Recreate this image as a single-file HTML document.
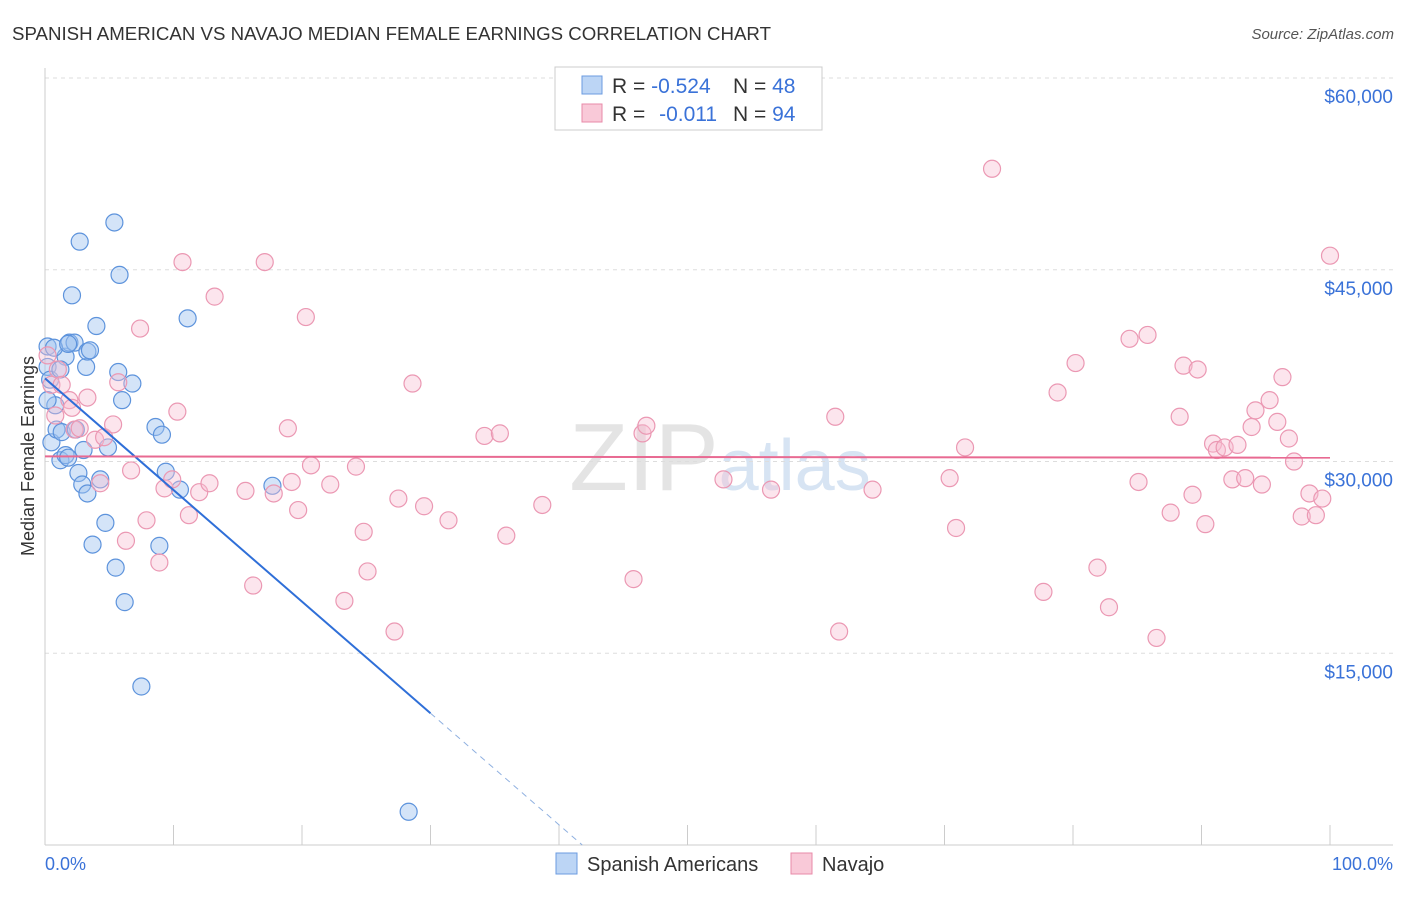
<!DOCTYPE html>
<html><head><meta charset="utf-8">
<style>
body{margin:0;background:#fff;font-family:"Liberation Sans",sans-serif;}
svg text{font-family:"Liberation Sans",sans-serif;}
</style></head>
<body>
<svg id="chart" width="1406" height="892" xmlns="http://www.w3.org/2000/svg">
<text x="12" y="40" font-size="18" fill="#333" textLength="759" lengthAdjust="spacingAndGlyphs">SPANISH AMERICAN VS NAVAJO MEDIAN FEMALE EARNINGS CORRELATION CHART</text>
<text x="1394" y="39" font-size="15" fill="#555" text-anchor="end" font-style="italic">Source: ZipAtlas.com</text>
<text x="720" y="490" font-size="96" fill="#e4e4e4" text-anchor="middle" font-family="Liberation Serif">ZIP<tspan fill="#d7e4f3" font-family="Liberation Sans" font-size="72">atlas</tspan></text>
<g id="grid"></g>
<g id="axes"></g>
<g id="pts"></g>
<g id="trend"></g>
<text transform="translate(34,456) rotate(-90)" font-size="18" fill="#333" text-anchor="middle">Median Female Earnings</text>
<text x="45" y="870" font-size="18" fill="#3a72d8">0.0%</text>
<text x="1393" y="870" font-size="18" fill="#3a72d8" text-anchor="end">100.0%</text>
<g>
<rect x="555" y="67" width="267" height="63" fill="#fff" stroke="#ccc"/>
<rect x="582" y="76" width="20" height="18" fill="#bcd5f5" stroke="#6b9be0"/>
<rect x="582" y="104" width="20" height="18" fill="#f9c9d8" stroke="#e88aa8"/>
<text x="612" y="93" font-size="21" fill="#333">R = <tspan fill="#3a72d8">-0.524</tspan><tspan x="733">N = </tspan><tspan fill="#3a72d8">48</tspan></text>
<text x="612" y="121" font-size="21" fill="#333">R = <tspan fill="#3a72d8" dx="8">-0.011</tspan><tspan x="733">N = </tspan><tspan fill="#3a72d8">94</tspan></text>
</g>
<g>
<rect x="556" y="853" width="21" height="21" fill="#bcd5f5" stroke="#6b9be0"/>
<text x="587" y="871" font-size="20" fill="#333">Spanish Americans</text>
<rect x="791" y="853" width="21" height="21" fill="#f9c9d8" stroke="#e88aa8"/>
<text x="822" y="871" font-size="20" fill="#333">Navajo</text>
</g>
</svg>
<script>
const yTicks=[15000,30000,45000,60000];
const yTickLabels=["$15,000","$30,000","$45,000","$60,000"];
const xTicks=[0,10,20,30,40,50,60,70,80,90,100];
const blueX=[0.2,0.2,0.4,0.5,0.8,0.9,1.2,1.3,1.6,1.6,1.8,1.9,2.1,2.3,2.4,2.6,2.7,2.9,3.0,3.2,3.3,3.3,3.5,3.7,4.0,4.3,4.7,4.9,5.4,5.5,5.7,5.8,6.0,6.2,6.8,7.5,8.6,8.9,9.1,9.4,10.5,11.1,17.7,28.3,0.2,0.7,1.2,1.8];
const blueY=[39.0,37.4,36.4,31.5,34.4,32.5,30.1,32.3,38.2,30.5,30.3,39.3,43.0,39.3,32.5,29.1,47.2,28.2,30.9,37.4,27.5,38.6,38.7,23.5,40.6,28.6,25.2,31.1,48.7,21.7,37.0,44.6,34.8,19.0,36.1,12.4,32.7,23.4,32.1,29.2,27.8,41.2,28.1,2.6,34.8,38.9,37.2,39.2];
const pinkX=[0.2,0.5,0.8,1.0,1.3,1.9,2.1,2.3,2.7,3.3,3.9,4.3,4.6,5.3,5.7,6.3,6.7,7.4,7.9,8.9,9.3,9.9,10.3,10.7,11.2,12.0,12.8,13.2,15.6,16.2,17.1,17.8,18.9,19.2,19.7,20.3,20.7,22.2,23.3,24.2,24.8,25.1,27.2,27.5,28.6,29.5,31.4,34.2,35.4,35.9,38.7,45.8,46.5,46.8,52.8,56.5,61.5,61.8,64.4,70.4,70.9,71.6,73.7,77.7,78.8,80.2,81.9,82.8,84.4,85.1,85.8,86.5,87.6,88.3,88.6,89.3,89.7,90.3,90.9,91.2,91.8,92.4,92.8,93.4,93.9,94.2,94.7,95.3,95.9,96.3,96.8,97.2,97.8,98.4,98.9,99.4,100.0];
const pinkY=[38.3,36.0,33.6,37.2,36.0,34.8,34.2,32.5,32.6,35.0,31.7,28.3,31.9,32.9,36.2,23.8,29.3,40.4,25.4,22.1,27.9,28.6,33.9,45.6,25.8,27.6,28.3,42.9,27.7,20.3,45.6,27.5,32.6,28.4,26.2,41.3,29.7,28.2,19.1,29.6,24.5,21.4,16.7,27.1,36.1,26.5,25.4,32.0,32.2,24.2,26.6,20.8,32.2,32.8,28.6,27.8,33.5,16.7,27.8,28.7,24.8,31.1,52.9,19.8,35.4,37.7,21.7,18.6,39.6,28.4,39.9,16.2,26.0,33.5,37.5,27.4,37.2,25.1,31.4,30.9,31.1,28.6,31.3,28.7,32.7,34.0,28.2,34.8,33.1,36.6,31.8,30.0,25.7,27.5,25.8,27.1,46.1];
const blueTrend=[36.5,-0.873];
const pinkTrend=[30.4,30.3];
const NS="http://www.w3.org/2000/svg";
const X=v=>45+v*12.85;
const Y=k=>845-k*12.783;
function mk(t,a,p){const e=document.createElementNS(NS,t);for(const k in a)e.setAttribute(k,a[k]);p.appendChild(e);return e;}
const grid=document.getElementById('grid'),axes=document.getElementById('axes'),pts=document.getElementById('pts'),trend=document.getElementById('trend');
yTicks.forEach((t,i)=>{
 const l=mk('line',{x1:45,x2:1393,y1:Y(t/1000),y2:Y(t/1000),stroke:'#ddd','stroke-dasharray':'4,4'},grid);
 
 
 const tx=mk('text',{x:1393,y:Y(t/1000)+25,'font-size':19,fill:'#3a72d8','text-anchor':'end'},axes);
 tx.textContent=yTickLabels[i];
 
 
});
const ax=mk('line',{x1:45,x2:45,y1:68,y2:845,stroke:'#ccc'},axes);


const bx=mk('line',{x1:45,x2:1393,y1:845,y2:845,stroke:'#ccc'},axes);


xTicks.forEach(t=>{
 const l=mk('line',{x1:X(t),x2:X(t),y1:825,y2:845,stroke:'#ccc'},axes);
 
 
});
blueX.forEach((x,i)=>{
 const c=mk('circle',{cx:X(x),cy:Y(blueY[i]),r:8.5,fill:'rgba(160,196,240,0.45)',stroke:'#5d93dc','stroke-width':1.2},pts);
 
 
});
pinkX.forEach((x,i)=>{
 const c=mk('circle',{cx:X(x),cy:Y(pinkY[i]),r:8.5,fill:'rgba(248,190,210,0.4)',stroke:'#eb98b3','stroke-width':1.2},pts);
 
 
});
const bEnd=30, bZero=-blueTrend[0]/blueTrend[1];
const b1=mk('line',{x1:X(0),y1:Y(blueTrend[0]),x2:X(bEnd),y2:Y(blueTrend[0]+blueTrend[1]*bEnd),stroke:'#2f6fd8','stroke-width':2},trend);


const b2=mk('line',{x1:X(bEnd),y1:Y(blueTrend[0]+blueTrend[1]*bEnd),x2:X(bZero),y2:Y(0),stroke:'#8fb0e0','stroke-width':1,'stroke-dasharray':'6,5'},trend);


const p1=mk('line',{x1:X(0),y1:Y(pinkTrend[0]),x2:X(100),y2:Y(pinkTrend[1]),stroke:'#e86a92','stroke-width':2},trend);


</script>
</body></html>
